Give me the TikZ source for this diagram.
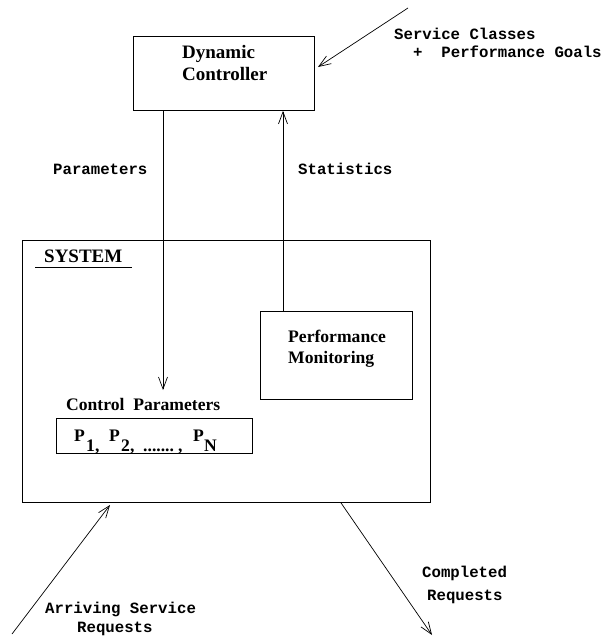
\documentclass[tikz,border=0pt]{standalone}
\usepackage{fontspec}
\setmainfont{Liberation Serif}
\newfontfamily\labelmono{Liberation Mono}
\usetikzlibrary{arrows.meta}
\begin{document}
\begin{tikzpicture}[x=1pt,y=-1pt,
  box/.style={draw, line width=0.9pt, inner sep=0pt, anchor=north west},
  flow/.style={line width=0.7pt, -{Straight Barb[length=12pt,width=9pt,line width=0.7pt]}},
  bigtext/.style={font=\fontsize{19}{22}\selectfont\bfseries, inner sep=0pt, anchor=base west},
  boxtext/.style={font=\fontsize{17.6}{21}\selectfont\bfseries, inner sep=0pt, anchor=base west},
  flowlabel/.style={font=\labelmono\bfseries\fontsize{15.7}{18}\selectfont, inner sep=0pt, anchor=base west}]

\useasboundingbox (0,0) rectangle (605,637);

% boxes
\node[box, minimum width=181pt, minimum height=74pt] (ctrl) at (133,36) {};
\node[box, minimum width=408pt, minimum height=262pt] (sys) at (22,240) {};
\node[box, minimum width=152pt, minimum height=88pt] (perf) at (260,311) {};
\node[box, minimum width=196pt, minimum height=35pt] (pbox) at (56,418) {};

% box texts
\node[bigtext] (dyn) at (182,58) {Dynamic};
\node[bigtext] (con) at (182,80) {Controller};
\node[bigtext] (systitle) at (44,262) {SYSTEM};
\draw[line width=0.9pt] (35,267) -- (132,267);
\node[boxtext] (perft) at (288,342) {Performance};
\node[boxtext] (mont) at (288,363) {Monitoring};
\node[boxtext] (cpt) at (66,410) {Control\ \ Parameters};
\node[boxtext] (plist) at (74,441) {%
  \makebox[0pt][l]{P}%
  \makebox[0pt][l]{\hspace*{12pt}\raisebox{-10pt}{1}}%
  \makebox[0pt][l]{\hspace*{21pt}\raisebox{-10pt}{,}}%
  \makebox[0pt][l]{\hspace*{35pt}P}%
  \makebox[0pt][l]{\hspace*{47pt}\raisebox{-10pt}{2,}}%
  \makebox[0pt][l]{\hspace*{69pt}\raisebox{-10pt}{.......}}%
  \makebox[0pt][l]{\hspace*{104pt}\raisebox{-10pt}{,}}%
  \makebox[0pt][l]{\hspace*{119pt}P}%
  \makebox[0pt][l]{\hspace*{130pt}\raisebox{-10pt}{N}}%
  \hspace*{144pt}};

% flow labels
\node[flowlabel] (svc) at (394,39) {Service Classes};
\node[flowlabel] (goals) at (413,57) {+\ \ Performance Goals};
\node[flowlabel] (parl) at (53,174) {Parameters};
\node[flowlabel] (statl) at (298,174) {Statistics};
\node[flowlabel] (arr1) at (45,613) {Arriving Service};
\node[flowlabel] (arr2) at (77,632) {Requests};
\node[flowlabel] (cmp1) at (422,577) {Completed};
\node[flowlabel] (cmp2) at (427,600) {Requests};

% connectors
\coordinate (goalsrc) at (408,8);
\coordinate (goaltip) at (318,67);
\coordinate (ptip) at (163,390);
\coordinate (statx) at (283,0);
\coordinate (arrsrc) at (12,634);
\coordinate (arrtip) at (110,505);
\coordinate (outx) at (341,0);
\coordinate (outtip) at (432,635);

\draw[flow] (goalsrc) -- (goaltip);
\draw[flow] (ctrl.south -| ptip) -- (ptip);
\draw[flow] (perf.north -| statx) -- (ctrl.south -| statx);
\draw[flow] (arrsrc) -- (arrtip);
\draw[flow] (sys.south -| outx) -- (outtip);
\end{tikzpicture}
\end{document}
